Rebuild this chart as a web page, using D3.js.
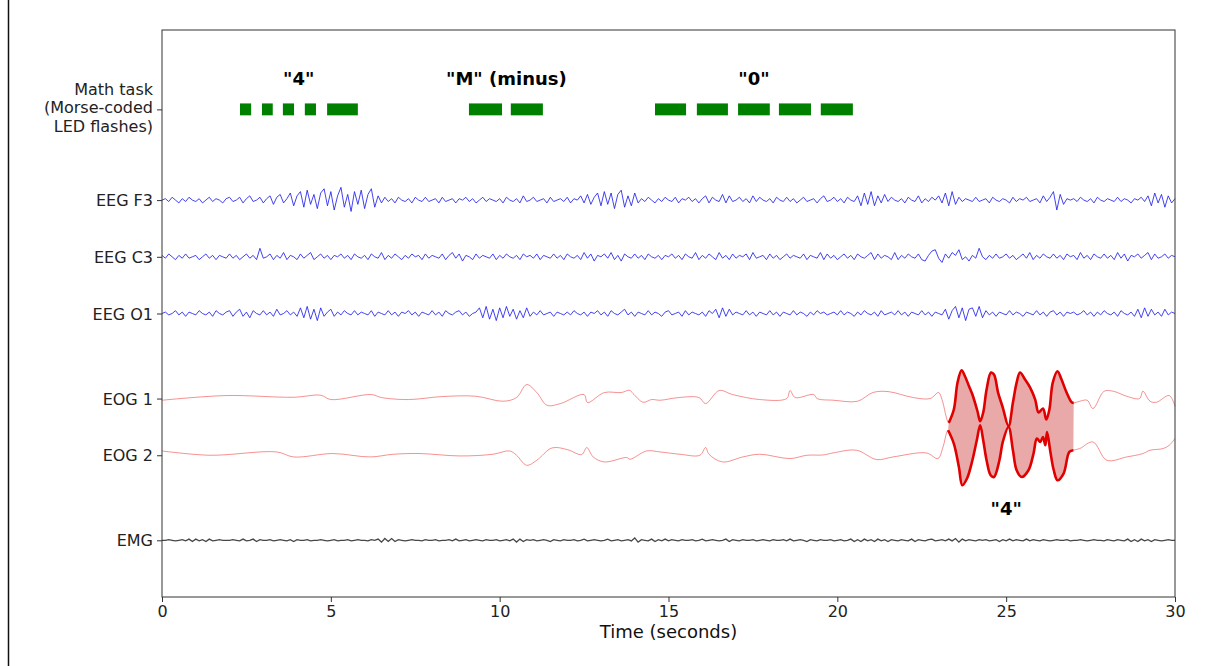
<!DOCTYPE html>
<html>
<head>
<meta charset="utf-8">
<script src="https://cdn.jsdelivr.net/npm/d3@7"></script>
<style>
  html, body { margin: 0; padding: 0; background: #fff; }
  svg { display: block; }
  text { font-family: "DejaVu Sans", sans-serif; }
</style>
</head>
<body>
<svg id="chart" width="1217" height="666"></svg>
<script>
// ---------------- DATA ----------------
const channelNames = ["Math task\n(Morse-coded\nLED flashes)", "EEG F3", "EEG C3", "EEG O1", "EOG 1", "EOG 2", "EMG"];
const channelOffsets = [8.6, 7, 6, 5, 3.5, 2.5, 1];
const xTicks = [0, 5, 10, 15, 20, 25, 30];
const xTitle = "Time (seconds)";

// Morse-coded LED flashes (seconds)
const flashStart = [2.31, 2.96, 3.58, 4.23, 4.89, 9.09, 10.33, 14.6, 15.84, 17.06, 18.27, 19.51];
const flashEnd   = [2.64, 3.28, 3.91, 4.56, 5.80, 10.07, 11.28, 15.52, 16.76, 18.0, 19.22, 20.46];
const flashLabels = ['"4"', '"M" (minus)', '"0"'];
const flashLabelTimes = [4.05, 10.2, 17.53];
const eogLabel = '"4"';
const eogLabelTime = 25.0;

// EEG samples every 0.1 s (µV-like units)
const eegDt = 0.1;
const eegF3 = [
 0,1,-1,2,0,-2,1,-1,2,0,
 -1,1,-2,0,2,-1,1,0,-2,1,
 2,-1,0,2,-2,1,3,-1,0,2,
 -2,1,3,-3,2,4,-2,1,5,-4,
 3,6,-5,7,-3,4,-6,5,8,-4,
 6,-7,3,9,-5,4,-8,6,-3,7,
 -6,4,8,-5,3,-2,2,-1,1,-2,
 2,0,-1,1,-2,2,0,-1,2,-1,
 0,1,-2,2,-1,0,1,-2,1,0,
 2,-1,1,-2,0,2,-1,1,0,-1,
 1,-2,2,0,-1,1,-2,3,-1,0,
 2,-1,0,1,-2,2,-1,0,1,-1,
 2,-2,1,0,3,-2,4,-3,2,5,
 -4,6,-3,5,-6,4,7,-5,3,-4,
 5,-2,1,-1,2,0,-2,1,-1,2,
 0,-1,2,-2,1,0,2,-1,1,-2,
 1,3,-2,2,0,-1,4,-2,3,-1,
 0,2,-1,1,-2,3,-1,2,0,-1,
 1,-2,2,0,-1,2,-1,1,-2,0,
 2,-1,0,1,-2,1,3,-1,0,2,
 -1,1,-2,2,0,-1,3,-4,5,-3,
 6,-4,3,-2,4,-1,2,0,-1,1,
 -2,2,0,-1,3,-2,1,-1,2,0,
 3,-2,5,-4,6,-3,2,-1,1,0,
 -1,2,-1,0,1,-2,2,0,-1,1,
 0,-2,2,-1,1,0,2,-1,0,1,
 -2,3,-1,2,6,-7,4,-3,1,0,
 1,-1,2,0,-1,1,-2,2,0,-1,
 1,0,-1,2,-1,1,0,-2,1,0,
 2,-1,3,-4,5,-2,4,-5,3,-2,
 1];
const eegC3 = [
 1,-1,2,0,-2,1,-1,2,-1,0,
 1,-2,0,2,-1,1,-2,1,0,-1,
 2,-1,1,-2,0,2,-1,1,-2,6,
 -1,0,2,-2,1,-1,3,-2,1,0,
 -2,2,-1,1,3,-2,0,2,-1,1,
 -2,1,0,2,-1,1,-2,2,0,-1,
 1,-2,2,0,-1,3,-2,1,-1,2,
 0,-2,1,-1,2,0,1,-2,2,-1,
 1,0,-1,2,-2,1,3,-1,2,-3,
 1,0,-2,2,-1,1,0,-1,2,-2,
 1,-1,2,0,-1,1,-2,2,0,1,
 -1,2,-2,1,0,-1,2,-1,1,-2,
 2,0,-1,1,-2,3,-1,2,-3,1,
 0,2,-1,3,-2,1,-3,2,0,-1,
 2,-1,1,-2,2,0,-1,1,-2,1,
 0,2,-1,1,-2,2,0,-1,3,-2,
 1,-1,2,0,-2,3,-1,1,-2,2,
 -1,1,0,2,-2,3,-1,0,1,-2,
 2,-1,1,-2,0,2,-1,1,0,-1,
 2,-2,1,0,-1,3,-2,2,-1,1,
 -2,0,2,-1,1,-2,2,0,-1,1,
 3,-2,2,-1,1,0,-2,3,-2,1,
 -1,2,0,-1,2,-2,-3,1,4,5,
 -1,-4,2,-1,3,1,5,-2,0,-3,
 1,-1,6,0,-2,1,-1,2,-1,0,
 2,-1,1,-2,0,2,-1,3,-2,1,
 -1,2,0,-1,2,-1,1,-2,2,0,
 1,-2,3,-1,1,-2,2,0,-1,2,
 -1,1,-2,3,-1,2,-3,1,0,2,
 -1,1,3,-2,2,-1,0,2,-1,1,
 0];
const eegO1 = [
 0,1,-1,0,2,-1,1,-2,1,0,
 -1,2,0,-1,1,-2,2,0,-1,1,
 2,-2,1,3,-2,1,-3,2,0,-1,
 2,-1,1,-2,3,-1,0,2,-1,1,
 -2,4,-3,5,-4,3,-5,4,-2,1,
 3,-2,1,-1,2,0,-1,2,-1,1,
 0,-1,2,-2,1,0,-1,2,-1,1,
 -2,1,0,2,-1,1,-2,1,0,-1,
 2,-1,1,-2,2,0,-1,1,2,-1,
 1,-2,0,1,4,-3,5,-4,3,-5,
 4,-3,5,-2,3,-4,2,-3,4,-2,
 1,-1,2,-1,0,1,-2,1,0,-1,
 1,-1,2,0,-1,1,-2,1,0,2,
 -1,1,-2,2,0,-1,1,3,-1,1,
 -2,1,0,-1,2,-1,1,0,-2,1,
 2,-1,0,1,-2,2,-1,1,0,-1,
 1,-2,2,0,3,-3,4,-2,3,-1,
 1,0,-1,2,-1,1,-2,1,0,-1,
 2,-1,1,-2,1,0,-1,2,-1,1,
 0,-2,1,-1,2,0,1,-1,0,1,
 -1,2,-1,1,0,-2,1,-1,2,0,
 -1,1,-2,2,-1,0,1,-1,2,-1,
 1,-2,1,0,-1,2,-1,1,-2,1,
 0,-1,3,-4,2,5,-3,4,-5,3,
 4,-2,5,-3,2,-1,1,-2,1,0,
 -1,2,-1,1,0,-2,1,0,-1,2,
 -1,1,-2,1,2,-1,1,-2,1,0,
 1,-1,0,2,-1,1,-2,1,-1,2,
 0,-1,1,-2,2,0,-1,1,-2,3,
 -3,4,-2,3,-1,1,-2,3,-1,1,
 0];
const emg = [
 0,0,1,0,-1,0,1,-1,2,-2,
 2,-1,1,-2,2,-1,0,1,0,0,
 0,1,0,-1,2,-1,0,2,-2,1,
 0,0,1,-1,0,1,0,-1,1,-2,
 1,0,0,1,-1,0,0,1,0,-1,
 0,1,-1,0,0,1,-1,0,1,0,
 0,-1,1,0,2,-3,3,-2,3,-2,
 1,0,-1,0,1,0,0,-1,1,0,
 0,1,-1,0,0,1,-1,2,-1,0,
 1,-1,0,1,0,-1,1,0,0,1,
 -1,0,1,-1,2,-3,2,-2,1,0,
 1,-1,0,1,0,-2,1,0,-1,1,
 0,0,1,-1,0,2,-1,0,1,0,
 -1,0,2,-1,0,1,-1,0,1,-1,
 4,-3,1,0,-1,2,-2,1,-1,2,
 -1,1,0,-1,1,0,0,1,-1,0,
 2,-1,0,1,0,-1,0,2,-2,1,
 0,-1,1,0,0,1,-1,0,1,0,
 -1,1,0,0,1,-1,2,-1,0,1,
 0,-2,1,0,-1,1,0,0,1,-1,
 0,1,-1,0,2,-2,1,-2,2,-1,
 1,-2,2,-1,1,-2,1,0,-1,1,
 0,-1,2,-2,1,0,-1,1,2,-1,
 0,1,-1,2,-1,3,-3,2,-1,1,
 0,-1,1,0,1,-1,0,1,-2,1,
 -1,2,-1,1,0,-1,2,-1,1,0,
 -1,1,0,-1,0,1,0,0,1,-1,
 0,0,1,0,-1,0,1,0,0,-1,
 1,0,-1,1,0,-1,2,-2,1,-2,
 2,-1,1,-2,1,0,-1,0,1,0,
 0];

// EOG samples (time s, amplitude µV-like units)
const eog1Time = [0,1.9,3.9,4.7,5.0,6.2,6.5,7.3,8.3,9.3,10.1,10.5,10.8,11.1,11.4,11.8,12.5,12.6,13.1,13.6,13.85,13.95,14.25,14.5,14.75,15.3,15.9,16.1,16.5,16.9,17.7,18.5,18.6,18.75,19.3,19.4,19.9,20.6,21.05,21.5,22.25,22.75,23.0,23.1,
 23.3,23.45,23.56,23.68,23.78,23.9,24.0,24.15,24.23,24.32,24.42,24.55,24.64,24.76,24.9,25.07,25.2,25.31,25.41,25.56,25.71,25.86,25.96,26.09,26.19,26.28,26.38,26.52,26.64,26.79,26.94,27.0,
 27.18,27.4,27.57,27.9,28.17,28.57,28.95,29.05,29.26,29.45,29.83,30];
const eog1Value = [-1.7,3,1.3,3.3,-1,4,1,-1,2,2.3,-2.7,1,14,6,-6.7,-5,4,-4,6,6,8.3,5,-3.7,-1,-1.7,1,1,-5,8,4,-1,0,8,1,4,0,-1.7,-2.7,6,7,1,0,6,-1,
 -24.3,-11,16,28.3,22.3,12.3,4,-12.7,-22.7,-14,9,26,24,6,-9,-27.7,-4,16,26,19,11,-1,-14,-10,-21,-11,16,27.3,19,6,-3.7,-4.3,
 -2.7,-1.7,-10,7.3,7.3,2.3,0,7.3,-2.7,-3.7,3,-7.7];
const eog2Time = [0,1.42,3.4,3.9,5.06,6.16,6.85,7.64,8.82,9.8,10.3,10.5,10.8,11.1,11.55,12.0,12.43,12.58,12.77,13.1,13.76,13.86,14.35,14.75,15.34,15.93,16.1,16.2,16.6,17.2,17.7,18.6,19.1,19.58,19.87,20.57,21.16,21.65,22.64,22.98,23.13,
 23.28,23.45,23.6,23.7,23.84,24.0,24.13,24.23,24.32,24.42,24.54,24.64,24.8,24.9,25.07,25.2,25.31,25.46,25.66,25.81,25.91,26.01,26.09,26.16,26.21,26.31,26.41,26.52,26.7,26.87,26.99,
 27.18,27.57,27.98,28.57,29.05,29.26,29.65,29.83,30];
const eog2Value = [4.3,0,3.3,-1.7,1.7,-1.7,1,1.7,-0.7,1,4.3,0,-10,-5,7.3,5.7,0.7,7.7,-1.7,-6.7,-2.3,-4,4.3,3.3,1,0,7.7,1,-6.7,-1.7,1,-3.3,0,0.3,2.3,5,-4.3,-1.7,2.3,-3.3,8.3,
 25,11.7,-11.7,-30,-23.3,-5,15,30,15,-5,-20,-21.7,-5,13.3,28.3,5,-15,-21.7,-15,1.7,16.7,13.3,18.3,10,23.3,3.3,-15,-25,-18.3,3.3,5,
 6.7,13.3,-5,-1.7,1.7,5,6.7,10,16.7];
const eogEventStart = 23.28;
const eogEventEnd = 27.0;

// ---------------- CHART ----------------
const svg = d3.select("#chart");
const W = 1217, H = 666;
const plotL = 162, plotR = 1175, plotT = 30, plotB = 597;

const x = d3.scaleLinear().domain([0, 30]).range([plotL, plotR]);
const y = d3.scaleLinear().domain([0, 10]).range([plotB, plotT]);

const eegGain = 0.025;   // axis units per EEG unit
const eogGain = 1 / 56.7;
const emgGain = 0.6 / 56.7;

// figure edge line at left
svg.append("line").attr("x1", 8.5).attr("x2", 8.5).attr("y1", 0).attr("y2", H)
  .attr("stroke", "#111").attr("stroke-width", 1.5);

const g = svg.append("g");

// Morse flashes
const barH = 0.21;
g.selectAll("rect.flash").data(flashStart).enter().append("rect")
  .attr("class", "flash")
  .attr("x", (d) => x(d))
  .attr("width", (d, i) => x(flashEnd[i]) - x(d))
  .attr("y", y(channelOffsets[0] + barH / 2))
  .attr("height", y(channelOffsets[0] - barH / 2) - y(channelOffsets[0] + barH / 2))
  .attr("fill", "#008000");

g.selectAll("text.flabel").data(flashLabels).enter().append("text")
  .attr("class", "flabel")
  .attr("x", (d, i) => x(flashLabelTimes[i]))
  .attr("y", y(9.03))
  .attr("text-anchor", "middle")
  .attr("font-weight", "bold")
  .attr("font-size", 18)
  .attr("fill", "#000")
  .text(d => d);

// EEG traces
const eegLine = (offset) => d3.line()
  .x((d, i) => x(i * eegDt))
  .y((d) => y(offset + d * eegGain));

[[eegF3, 1], [eegC3, 2], [eegO1, 3]].forEach(([arr, k]) => {
  g.append("path").datum(arr)
    .attr("d", eegLine(channelOffsets[k]))
    .attr("fill", "none")
    .attr("stroke", "#2222ee")
    .attr("stroke-opacity", 0.85)
    .attr("stroke-width", 1)
    .attr("stroke-linejoin", "round");
});

// EOG traces
const eog1 = eog1Time.map((t, i) => [t, eog1Value[i]]);
const eog2 = eog2Time.map((t, i) => [t, eog2Value[i]]);
const eogLine = (offset) => d3.line()
  .curve(d3.curveCatmullRom.alpha(0.5))
  .x(d => x(d[0]))
  .y(d => y(offset + d[1] * eogGain));

const seg1 = eog1.filter(d => d[0] >= eogEventStart - 0.05 && d[0] <= eogEventEnd);
const seg2 = eog2.filter(d => d[0] >= eogEventStart - 0.05 && d[0] <= eogEventEnd);

// fill between the two EOG traces during the eye-movement event
const upperD = eogLine(channelOffsets[4])(seg1);
const lowerD = eogLine(channelOffsets[5])(seg2.slice().reverse());
g.append("path")
  .attr("d", upperD + "L" + lowerD.slice(1) + "Z")
  .attr("fill", "#e9a9a9")
  .attr("stroke", "none");

g.append("path").datum(eog1).attr("d", eogLine(channelOffsets[4]))
  .attr("fill", "none").attr("stroke", "#e33").attr("stroke-opacity", 0.6).attr("stroke-width", 0.9);
g.append("path").datum(eog2).attr("d", eogLine(channelOffsets[5]))
  .attr("fill", "none").attr("stroke", "#e33").attr("stroke-opacity", 0.6).attr("stroke-width", 0.9);

g.append("path").datum(seg1).attr("d", eogLine(channelOffsets[4]))
  .attr("fill", "none").attr("stroke", "#e00000").attr("stroke-width", 2.6).attr("stroke-linejoin", "round");
g.append("path").datum(seg2).attr("d", eogLine(channelOffsets[5]))
  .attr("fill", "none").attr("stroke", "#e00000").attr("stroke-width", 2.6).attr("stroke-linejoin", "round");

g.append("text")
  .attr("x", x(eogLabelTime)).attr("y", y(1.45))
  .attr("text-anchor", "middle").attr("font-weight", "bold").attr("font-size", 18)
  .text(eogLabel);

// EMG trace
g.append("path").datum(emg)
  .attr("d", d3.line().x((d, i) => x(i * eegDt)).y(d => y(channelOffsets[6] + d * emgGain)))
  .attr("fill", "none").attr("stroke", "#333").attr("stroke-opacity", 0.9).attr("stroke-width", 1.3);

// Frame
svg.append("rect").attr("x", plotL).attr("y", plotT).attr("width", plotR - plotL).attr("height", plotB - plotT)
  .attr("fill", "none").attr("stroke", "#333").attr("stroke-width", 1);

// X axis
const xAxis = svg.append("g").attr("transform", `translate(0,${plotB})`)
  .call(d3.axisBottom(x).tickValues(xTicks).tickFormat(d3.format("d")).tickSize(5).tickPadding(4));
xAxis.select(".domain").remove();
xAxis.selectAll("line").attr("stroke", "#333");
xAxis.selectAll("text").attr("font-size", 16).attr("fill", "#222").attr("font-family", "DejaVu Sans, sans-serif");

svg.append("text").attr("x", (plotL + plotR) / 2).attr("y", 638)
  .attr("text-anchor", "middle").attr("font-size", 18).attr("fill", "#111").text(xTitle);

// Y axis
const yAxis = svg.append("g").attr("transform", `translate(${plotL},0)`)
  .call(d3.axisLeft(y).tickValues(channelOffsets).tickFormat("").tickSize(5));
yAxis.select(".domain").remove();
yAxis.selectAll("line").attr("stroke", "#333");

channelOffsets.forEach((off, i) => {
  const lines = channelNames[i].split("\n");
  const t = svg.append("text")
    .attr("x", plotL - 9)
    .attr("text-anchor", "end")
    .attr("font-size", 16)
    .attr("fill", "#222");
  const lh = 18.5;
  const y0 = (lines.length > 1 ? y(off) + 4 : y(off) + 6) - (lines.length - 1) * lh / 2;
  lines.forEach((ln, j) => {
    t.append("tspan").attr("x", plotL - 9).attr("y", y0 + j * lh).text(ln);
  });
});
</script>
</body>
</html>
